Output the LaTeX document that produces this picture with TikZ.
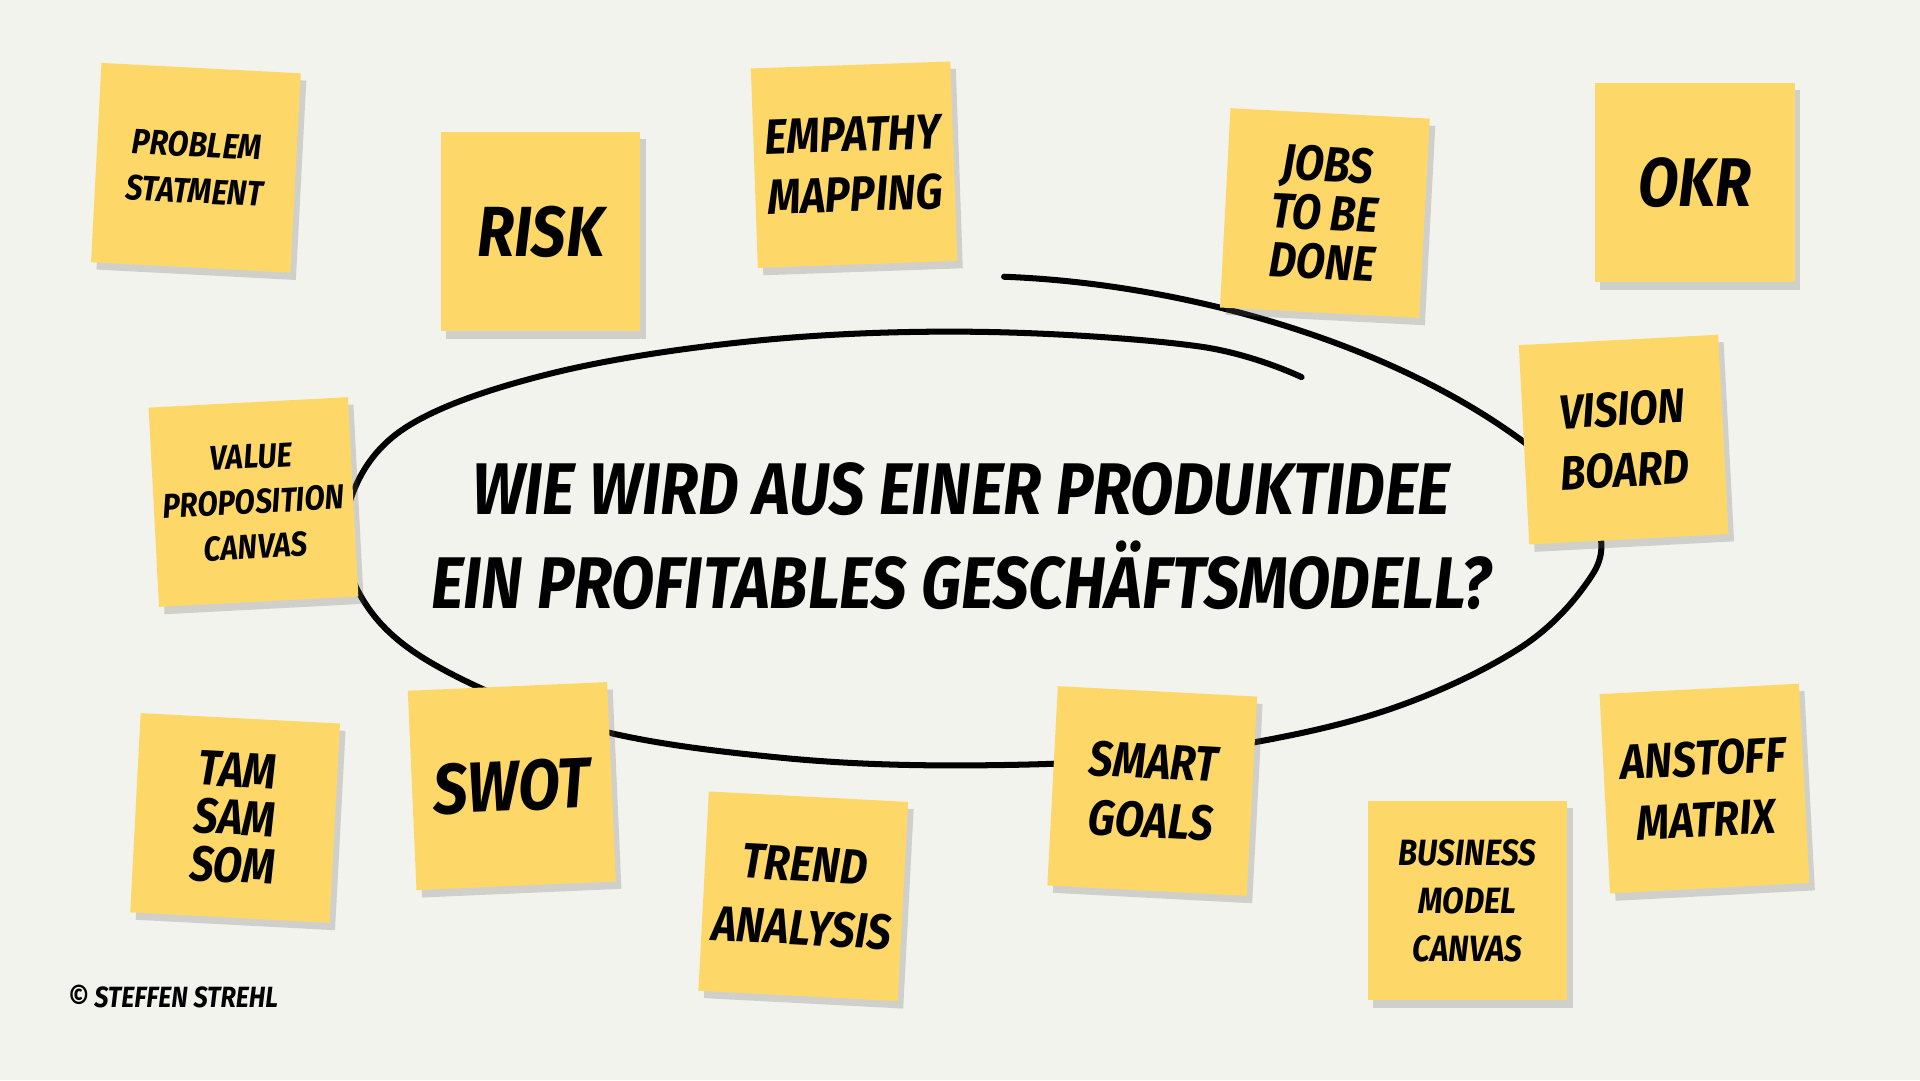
\documentclass[tikz,border=0pt]{standalone}
\usepackage{fontspec}
\setmainfont{Fira Sans}[FakeStretch=0.86]
\usetikzlibrary{shadows}
\definecolor{paper}{HTML}{F3F3EE}
\definecolor{postit}{HTML}{FDD868}
\newcommand{\hand}[2]{\fontsize{#1}{#2}\selectfont\bfseries\itshape}
\tikzset{
  note/.style={fill=postit, minimum size=16.3mm, inner sep=0pt, align=center,
    drop shadow={shadow xshift=0.45mm, shadow yshift=-0.6mm, fill=black!60, opacity=0.25}},
  pen/.style={line width=1.4pt, line cap=round}
}

\begin{document}
\begin{tikzpicture}[x=0.1mm, y=-0.1mm]
      \fill[paper] (0,0) rectangle (1568,882);
      \useasboundingbox (0,0) rectangle (1568,882);

      % the hand drawn loop
      \draw[pen] plot[smooth, tension=0.6] coordinates {(1063,308) (980,283) (800,271) (620,278) (450,305) (330,350) (284,415) (292,482) (350,540) (480,594) (640,619) (800,625) (960,616) (1120,584) (1240,530) (1300,470) (1306,430) (1290,400)};
      \draw[pen] (1290,400) .. controls (1180,290) and (980,232) .. (820,226);

      \node[font=\hand{17}{21.9}, align=center] (0) at (785,438) {WIE WIRD AUS EINER PRODUKTIDEE\\EIN PROFITABLES GESCHÄFTSMODELL?};

      \node[note, rotate=-3, font=\hand{8.2}{10.8}] (1) at (160,137) {PROBLEM\\STATMENT};
      \node[note, font=\hand{16.5}{20}] (2) at (441.5,189) {RISK};
      \node[note, rotate=2, font=\hand{11.5}{13.9}] (3) at (697.5,134.5) {EMPATHY\\MAPPING};
      \node[note, rotate=-3, font=\hand{11.5}{11.4}] (4) at (1082,174) {JOBS\\TO BE\\DONE};
      \node[note, font=\hand{16}{20}] (5) at (1384,149) {OKR};
      \node[note, rotate=3, font=\hand{11.2}{14.2}] (6) at (1326,359) {VISION\\BOARD};
      \node[note, rotate=3, font=\hand{8}{10.5}] (7) at (207,410) {VALUE\\PROPOSITION\\CANVAS};
      \node[note, rotate=-3, font=\hand{11.5}{11.1}] (8) at (192,668) {TAM\\SAM\\SOM};
      \node[note, rotate=2.5, font=\hand{16.5}{20}] (9) at (418,642) {SWOT};
      \node[note, rotate=-3, font=\hand{11.5}{14.8}] (10) at (656,732) {TREND\\ANALYSIS};
      \node[note, rotate=-3, font=\hand{11.5}{13.7}] (11) at (941,646) {SMART\\GOALS};
      \node[note, font=\hand{8.5}{11.1}] (12) at (1198.5,735.5) {BUSINESS\\MODEL\\CANVAS};
      \node[note, rotate=3, font=\hand{11.4}{14.2}] (13) at (1392,644) {ANSTOFF\\MATRIX};

      \node[font=\hand{6.8}{7}, anchor=west, inner sep=0pt] (14) at (55,814) {© STEFFEN STREHL};
\end{tikzpicture}
\end{document}
